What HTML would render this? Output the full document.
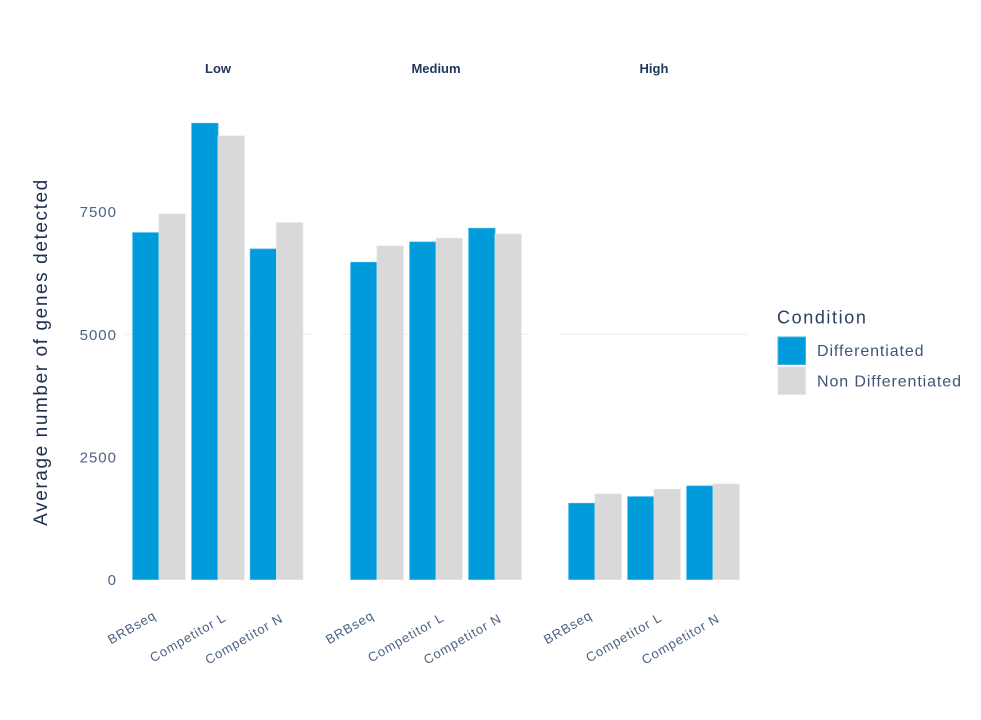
<!DOCTYPE html>
<html>
<head>
<meta charset="utf-8">
<style>
  html, body { margin:0; padding:0; background:#ffffff; }
  svg { display:block; }
  text { font-family: "Liberation Sans", "DejaVu Sans", sans-serif; }
</style>
</head>
<body>
<svg width="981" height="720" viewBox="0 0 981 720" xmlns="http://www.w3.org/2000/svg">
  <rect x="0" y="0" width="981" height="720" fill="#ffffff"/>

  <!-- gridlines (5000) -->
  <line x1="125" y1="334.3" x2="312" y2="334.3" stroke="#eeeeee" stroke-width="1"/>
  <line x1="342" y1="334.3" x2="529" y2="334.3" stroke="#eeeeee" stroke-width="1"/>
  <line x1="560" y1="334.3" x2="748" y2="334.3" stroke="#eeeeee" stroke-width="1"/>

  <!-- Panel titles -->
  <g font-size="13" font-weight="bold" fill="#22375a" text-anchor="middle">
    <text x="218" y="73">Low</text>
    <text x="436" y="73">Medium</text>
    <text x="654" y="73">High</text>
  </g>

  <!-- Y axis tick labels -->
  <g font-size="15" fill="#4d6385" text-anchor="end" letter-spacing="1">
    <text x="117" y="217">7500</text>
    <text x="117" y="340">5000</text>
    <text x="117" y="462.5">2500</text>
    <text x="117" y="585">0</text>
  </g>

  <!-- Y axis title -->
  <text transform="translate(47,352) rotate(-90)" text-anchor="middle" font-size="19" letter-spacing="1.6" fill="#1d2f50">Average number of genes detected</text>

  <!-- Bars: Low -->
  <g stroke-width="0.8">
    <rect x="132.7" y="232.7" width="26.3" height="346.8" fill="#009bdb" stroke="#2fb0e8"/>
    <rect x="159" y="214" width="26.3" height="365.5" fill="#d9d9d9" stroke="#e2e2e2"/>
    <rect x="191.7" y="123.3" width="26.3" height="456.2" fill="#009bdb" stroke="#2fb0e8"/>
    <rect x="218" y="136" width="26.3" height="443.5" fill="#d9d9d9" stroke="#e2e2e2"/>
    <rect x="250.2" y="249" width="26.3" height="330.5" fill="#009bdb" stroke="#2fb0e8"/>
    <rect x="276.5" y="222.7" width="26.3" height="356.8" fill="#d9d9d9" stroke="#e2e2e2"/>

    <!-- Medium -->
    <rect x="350.7" y="262.3" width="26.3" height="317.2" fill="#009bdb" stroke="#2fb0e8"/>
    <rect x="377" y="246" width="26.3" height="333.5" fill="#d9d9d9" stroke="#e2e2e2"/>
    <rect x="409.7" y="242" width="26.3" height="337.5" fill="#009bdb" stroke="#2fb0e8"/>
    <rect x="436" y="238.3" width="26.3" height="341.2" fill="#d9d9d9" stroke="#e2e2e2"/>
    <rect x="468.7" y="228.3" width="26.3" height="351.2" fill="#009bdb" stroke="#2fb0e8"/>
    <rect x="495" y="234" width="26.3" height="345.5" fill="#d9d9d9" stroke="#e2e2e2"/>

    <!-- High -->
    <rect x="568.7" y="503.3" width="26.3" height="76.2" fill="#009bdb" stroke="#2fb0e8"/>
    <rect x="595" y="494" width="26.3" height="85.5" fill="#d9d9d9" stroke="#e2e2e2"/>
    <rect x="627.7" y="496.7" width="26.3" height="82.8" fill="#009bdb" stroke="#2fb0e8"/>
    <rect x="654" y="489.3" width="26.3" height="90.2" fill="#d9d9d9" stroke="#e2e2e2"/>
    <rect x="686.7" y="486" width="26.3" height="93.5" fill="#009bdb" stroke="#2fb0e8"/>
    <rect x="713" y="484" width="26.3" height="95.5" fill="#d9d9d9" stroke="#e2e2e2"/>
  </g>

  <!-- X tick labels -->
  <g font-size="13" fill="#4a6285" text-anchor="end" letter-spacing="0.9">
    <text transform="translate(157,618) rotate(-30)">BRBseq</text>
    <text transform="translate(227,620) rotate(-30)">Competitor L</text>
    <text transform="translate(284,621) rotate(-30)">Competitor N</text>

    <text transform="translate(375,618) rotate(-30)">BRBseq</text>
    <text transform="translate(445,620) rotate(-30)">Competitor L</text>
    <text transform="translate(502.5,621) rotate(-30)">Competitor N</text>

    <text transform="translate(593,618) rotate(-30)">BRBseq</text>
    <text transform="translate(663,620) rotate(-30)">Competitor L</text>
    <text transform="translate(720.5,621) rotate(-30)">Competitor N</text>
  </g>

  <!-- Legend -->
  <text x="777" y="323.5" font-size="18" letter-spacing="1.6" fill="#2a3f5f">Condition</text>
  <rect x="778" y="337" width="27.5" height="27.5" fill="#009bdb" stroke="#3db3ea" stroke-width="1"/>
  <rect x="778" y="367" width="27.5" height="27.5" fill="#d9d9d9" stroke="#e4e4e4" stroke-width="1"/>
  <g font-size="16" letter-spacing="0.9" fill="#3f5578">
    <text x="817" y="356">Differentiated</text>
    <text x="817" y="386.5">Non Differentiated</text>
  </g>
</svg>
</body>
</html>
